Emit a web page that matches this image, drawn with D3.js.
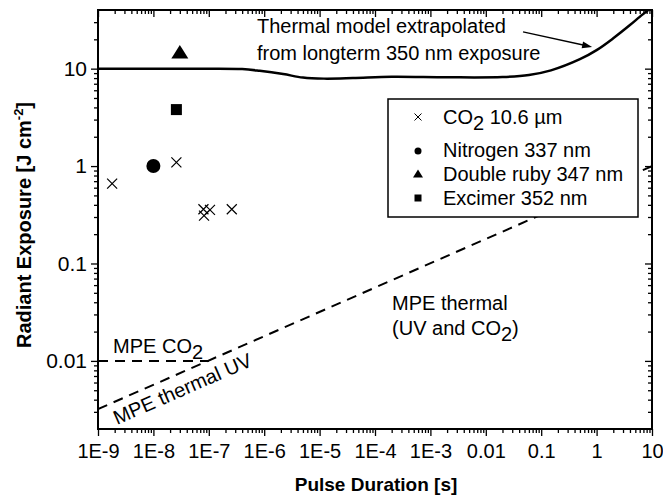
<!DOCTYPE html>
<html>
<head>
<meta charset="utf-8">
<script src="https://cdn.jsdelivr.net/npm/d3@7"></script>
<style>
  html, body { margin: 0; padding: 0; background: #fff; }
  svg { display: block; font-family: "Liberation Sans", Arial, Helvetica, sans-serif; }
</style>
</head>
<body>
<svg id="chart" width="663" height="500"></svg>
<script>
// ---------- data ----------
const xTickValues = [1e-9, 1e-8, 1e-7, 1e-6, 1e-5, 1e-4, 1e-3, 0.01, 0.1, 1, 10];
const xTickLabels = ["1E-9", "1E-8", "1E-7", "1E-6", "1E-5", "1E-4", "1E-3", "0.01", "0.1", "1", "10"];
const yTickValues = [0.01, 0.1, 1, 10];
const yTickLabels = ["0.01", "0.1", "1", "10"];

const co2Duration = [1.8e-9, 2.6e-8, 8.0e-8, 8.2e-8, 1.05e-7, 2.6e-7];
const co2Exposure = [0.66, 1.09, 0.36, 0.31, 0.355, 0.36];
const nitrogenDuration = [1.0e-8];
const nitrogenExposure = [1.0];
const rubyDuration = [3.0e-8];
const rubyExposure = [14.5];
const excimerDuration = [2.6e-8];
const excimerExposure = [3.8];

const thermalModelDuration = [1e-9, 1e-8, 1e-7, 4e-7, 8.3e-7, 2.2e-6, 5e-6, 1.2e-5, 4e-5, 2e-4, 2e-3, 0.02, 0.06, 0.15, 0.5, 1, 2, 4, 6, 8.5, 10];
const thermalModelExposure = [10, 10, 10, 9.9, 9.5, 8.8, 8.1, 7.9, 8.0, 8.25, 8.15, 8.2, 8.6, 9.6, 12.5, 15.5, 20.5, 28, 34, 40, 44];

const mpeCO2Duration = [1e-9, 1e-7];
const mpeCO2Exposure = [0.01, 0.01];
const mpeThermalDuration = [1e-9, 10];
const mpeThermalExposure = [0.0032, 1.0];

const legendLabels = ["CO2 10.6 µm", "Nitrogen 337 nm", "Double ruby 347 nm", "Excimer 352 nm"];

// ---------- setup ----------
const svg = d3.select("#chart");
const W = 663, H = 500;
const plot = { left: 98, right: 652, top: 10, bottom: 429 };

const x = d3.scaleLog().domain([1e-9, 10]).range([plot.left, plot.right]);
const y = d3.scaleLog().domain([0.002, 40]).range([plot.bottom, plot.top]);

svg.append("rect").attr("width", W).attr("height", H).attr("fill", "#fff");

svg.append("defs").append("clipPath").attr("id", "clip")
  .append("rect").attr("x", plot.left).attr("y", plot.top)
  .attr("width", plot.right - plot.left).attr("height", plot.bottom - plot.top);

// minor ticks
function minorTicks(lo, hi) {
  const out = [];
  for (let e = Math.floor(Math.log10(lo)); e <= Math.ceil(Math.log10(hi)); e++) {
    for (let m = 2; m <= 9; m++) {
      const v = m * Math.pow(10, e);
      if (v > lo * 1.0001 && v < hi * 0.9999) out.push(v);
    }
  }
  return out;
}
const xMinor = minorTicks(1e-9, 10);
const yMinor = minorTicks(0.002, 40);
const yMajor = yTickValues;

const MAJ = 7, MIN = 4;

function styleAxis(g) {
  g.select(".domain").remove();
  g.selectAll(".tick line").attr("stroke", "#000").attr("stroke-width", 1.3);
  g.selectAll(".tick text").attr("fill", "#000").attr("font-size", 20)
    .attr("font-family", "'Liberation Sans', Arial, sans-serif");
}

// bottom axis (outward)
svg.append("g").attr("transform", `translate(0,${plot.bottom})`)
  .call(d3.axisBottom(x).tickValues(xMinor).tickSize(MIN).tickFormat(""))
  .call(styleAxis);
svg.append("g").attr("transform", `translate(0,${plot.bottom})`)
  .call(d3.axisBottom(x).tickValues(xTickValues).tickSize(MAJ).tickPadding(8)
    .tickFormat((d, i) => xTickLabels[i]))
  .call(styleAxis);

// top axis (inward)
svg.append("g").attr("transform", `translate(0,${plot.top})`)
  .call(d3.axisBottom(x).tickValues(xMinor).tickSize(MIN).tickFormat(""))
  .call(styleAxis);
svg.append("g").attr("transform", `translate(0,${plot.top})`)
  .call(d3.axisBottom(x).tickValues(xTickValues).tickSize(MAJ).tickFormat(""))
  .call(styleAxis);

// left axis (outward)
svg.append("g").attr("transform", `translate(${plot.left},0)`)
  .call(d3.axisLeft(y).tickValues(yMinor).tickSize(MIN).tickFormat(""))
  .call(styleAxis);
svg.append("g").attr("transform", `translate(${plot.left},0)`)
  .call(d3.axisLeft(y).tickValues(yTickValues).tickSize(MAJ).tickPadding(4)
    .tickFormat((d, i) => yTickLabels[i]))
  .call(styleAxis)
  .call(g => g.selectAll(".tick text").attr("font-size", 21));

// right axis (inward)
svg.append("g").attr("transform", `translate(${plot.right},0)`)
  .call(d3.axisLeft(y).tickValues(yMinor).tickSize(MIN).tickFormat(""))
  .call(styleAxis);
svg.append("g").attr("transform", `translate(${plot.right},0)`)
  .call(d3.axisLeft(y).tickValues(yMajor).tickSize(MAJ).tickFormat(""))
  .call(styleAxis);

// frame
svg.append("rect").attr("x", plot.left).attr("y", plot.top)
  .attr("width", plot.right - plot.left).attr("height", plot.bottom - plot.top)
  .attr("fill", "none").attr("stroke", "#000").attr("stroke-width", 2);

const plotG = svg.append("g").attr("clip-path", "url(#clip)");

// MPE dashed lines
const line = d3.line().x(d => x(d[0])).y(d => y(d[1]));
plotG.append("path").datum(d3.zip(mpeCO2Duration, mpeCO2Exposure))
  .attr("d", line).attr("fill", "none").attr("stroke", "#000")
  .attr("stroke-width", 2).attr("stroke-dasharray", "10,7");
plotG.append("path").datum(d3.zip(mpeThermalDuration, mpeThermalExposure))
  .attr("d", line).attr("fill", "none").attr("stroke", "#000")
  .attr("stroke-width", 2).attr("stroke-dasharray", "10,7");

// thermal model curve
const curve = d3.line().x(d => x(d[0])).y(d => y(d[1])).curve(d3.curveCatmullRom.alpha(0.5));
plotG.append("path").datum(d3.zip(thermalModelDuration, thermalModelExposure))
  .attr("d", curve).attr("fill", "none").attr("stroke", "#000").attr("stroke-width", 2.5);

// markers
function cross(g, cx, cy, s, sw) {
  g.append("path")
    .attr("d", `M${cx - s},${cy - s}L${cx + s},${cy + s}M${cx - s},${cy + s}L${cx + s},${cy - s}`)
    .attr("stroke", "#000").attr("stroke-width", sw).attr("fill", "none");
}
d3.zip(co2Duration, co2Exposure).forEach(d => cross(plotG, x(d[0]), y(d[1]), 5, 1.2));
d3.zip(nitrogenDuration, nitrogenExposure).forEach(d =>
  plotG.append("circle").attr("cx", x(d[0])).attr("cy", y(d[1])).attr("r", 7).attr("fill", "#000"));
d3.zip(rubyDuration, rubyExposure).forEach(d =>
  plotG.append("path").attr("transform", `translate(${x(d[0])},${y(d[1])})`)
    .attr("d", "M0,-8L8.5,5.5L-8.5,5.5Z").attr("fill", "#000"));
d3.zip(excimerDuration, excimerExposure).forEach(d =>
  plotG.append("rect").attr("x", x(d[0]) - 5.5).attr("y", y(d[1]) - 5.5)
    .attr("width", 11).attr("height", 11).attr("fill", "#000"));

// legend
const leg = svg.append("g");
leg.append("rect").attr("x", 388).attr("y", 99).attr("width", 250).attr("height", 118)
  .attr("fill", "#fff").attr("stroke", "#000").attr("stroke-width", 1.5);
const legY = [117, 150, 174, 198];
const symX = 418, txtX = 443;
cross(leg, symX, legY[0], 3.5, 1);
leg.append("circle").attr("cx", symX).attr("cy", legY[1] + 1).attr("r", 3.5).attr("fill", "#000");
leg.append("path").attr("transform", `translate(${symX},${legY[2]})`).attr("d", "M0,-4.5L5,3.5L-5,3.5Z").attr("fill", "#000");
leg.append("rect").attr("x", symX - 3.5).attr("y", legY[3] - 3.5).attr("width", 7).attr("height", 7).attr("fill", "#000");

const t0 = leg.append("text").attr("x", txtX).attr("y", legY[0] + 7).attr("font-size", 20).attr("fill", "#000");
t0.append("tspan").text("CO");
t0.append("tspan").attr("dy", 6).text("2");
t0.append("tspan").attr("dy", -6).text(" 10.6 µm");
legendLabels.slice(1).forEach((lab, i) =>
  leg.append("text").attr("x", txtX).attr("y", legY[i + 1] + 7).attr("font-size", 20).attr("fill", "#000").text(lab));

// annotations
const ann = svg.append("g").attr("font-size", 20).attr("fill", "#000");
ann.append("text").attr("x", x(7.4e-7)).attr("y", y(23.2)).text("Thermal model extrapolated");
ann.append("text").attr("x", x(7.4e-7)).attr("y", y(12.3)).text("from longterm 350 nm exposure");

// arrow
const ax1 = x(0.047), ay1 = y(23.8), ax2 = x(0.83), ay2 = y(16.7);
const ang = Math.atan2(ay2 - ay1, ax2 - ax1);
svg.append("line").attr("x1", ax1).attr("y1", ay1)
  .attr("x2", ax2 - 8 * Math.cos(ang)).attr("y2", ay2 - 8 * Math.sin(ang))
  .attr("stroke", "#000").attr("stroke-width", 1.3);
svg.append("path")
  .attr("transform", `translate(${ax2},${ay2}) rotate(${ang * 180 / Math.PI})`)
  .attr("d", "M0,0L-10,-3.5L-10,3.5Z").attr("fill", "#000");

const mco2 = ann.append("text").attr("x", x(1.87e-9)).attr("y", y(0.0121));
mco2.append("tspan").text("MPE CO");
mco2.append("tspan").attr("dy", 6).text("2");

ann.append("text")
  .attr("transform", `translate(${x(2.2e-9)},${y(0.0022)}) rotate(-23.6)`)
  .text("MPE thermal UV");

ann.append("text").attr("x", x(2.03e-4)).attr("y", y(0.0333)).text("MPE thermal");
const uv = ann.append("text").attr("x", x(2.03e-4)).attr("y", y(0.01845));
uv.append("tspan").text("(UV and CO");
uv.append("tspan").attr("dy", 6).text("2");
uv.append("tspan").attr("dy", -6).text(")");

// axis titles
svg.append("text").attr("x", 376).attr("y", 491).attr("text-anchor", "middle")
  .attr("font-size", 19).attr("font-weight", "bold").attr("fill", "#000")
  .text("Pulse Duration [s]");

const yt = svg.append("text").attr("transform", `translate(31,225) rotate(-90)`)
  .attr("text-anchor", "middle").attr("font-size", 20).attr("font-weight", "bold").attr("fill", "#000");
yt.append("tspan").text("Radiant Exposure [J cm");
yt.append("tspan").attr("dy", -8).attr("font-size", 13).text("-2");
yt.append("tspan").attr("dy", 8).text("]");
</script>
</body>
</html>
